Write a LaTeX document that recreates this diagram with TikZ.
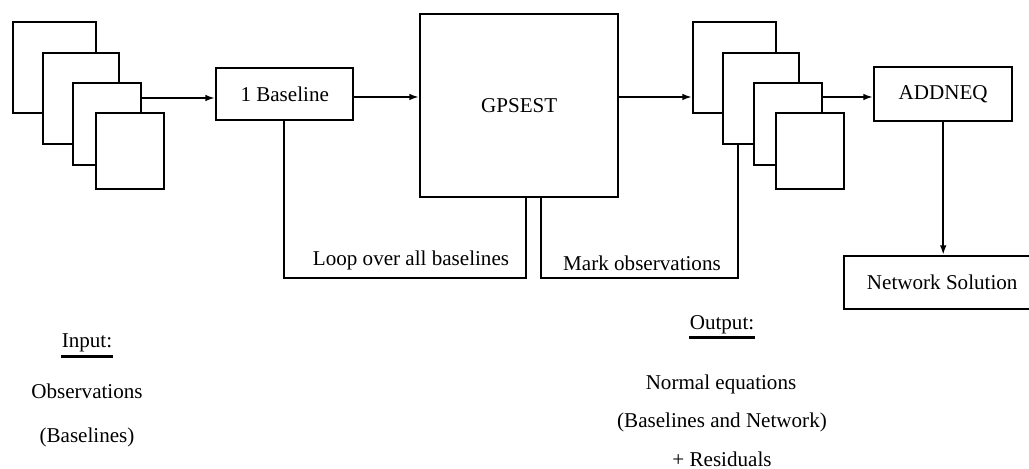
\documentclass[tikz,border=0pt]{standalone}
\usepackage{fontspec}
\setmainfont{Liberation Serif}
\usetikzlibrary{arrows.meta}

\tikzset{
  sheet/.style={draw, fill=white, line width=1.4pt, inner sep=0pt, anchor=north west},
  prog/.style={draw, line width=1.4pt, inner sep=0pt, anchor=north west, font=\fontsize{12}{14}\selectfont},
  flow/.style={line width=1.2pt, -{Latex[length=5.5pt,width=3.8pt]}},
  loopline/.style={line width=1.4pt},
  lbl/.style={inner sep=0pt, anchor=base, font=\fontsize{12}{14}\selectfont},
}

\begin{document}
\begin{tikzpicture}[x=0.02cm, y=-0.02cm]
		\useasboundingbox (0,0) rectangle (1029,469);
		% Input files:
		\node[sheet, minimum width=1.66cm, minimum height=1.82cm] (in1) at (12,21){};
		\node[sheet, minimum width=1.52cm, minimum height=1.82cm] (in2) at (42,52){};
		\node[sheet, minimum width=1.36cm, minimum height=1.64cm] (in3) at (72,82){};
		\node[sheet, minimum width=1.36cm, minimum height=1.52cm] (in4) at (95,112){};
		% Programs:
		\node[prog, minimum width=2.74cm, minimum height=1.04cm] (baseline) at (215,67){1 Baseline};
		\node[prog, minimum width=3.96cm, minimum height=3.66cm] (gpsest) at (419,13){GPSEST};
		\node[prog, minimum width=2.76cm, minimum height=1.08cm] (addneq) at (873,66){ADDNEQ};
		\node[prog, minimum width=3.92cm, minimum height=1.06cm] (netsol) at (843,255){Network Solution};
		% Output files:
		\node[sheet, minimum width=1.66cm, minimum height=1.82cm] (out1) at (692,21){};
		\node[sheet, minimum width=1.52cm, minimum height=1.82cm] (out2) at (722,52){};
		\node[sheet, minimum width=1.36cm, minimum height=1.64cm] (out3) at (753,82){};
		\node[sheet, minimum width=1.36cm, minimum height=1.52cm] (out4) at (775,112){};
		% Flow:
		\draw[flow] (in3.east |- 0,98) -- (baseline.west |- 0,98);
		\draw[flow] (baseline.east |- 0,97) -- (gpsest.west |- 0,97);
		\draw[flow] (gpsest.east |- 0,97) -- (out1.west |- 0,97);
		\draw[flow] (out3.east |- 0,97) -- (addneq.west |- 0,97);
		\draw[flow] (addneq.south) -- (netsol.north -| addneq.south);
		% Loops:
		\draw[loopline] (baseline.south -| 284,0) |- (526,278) -- (gpsest.south -| 526,0);
		\node[lbl] (looptxt) at (411,266){Loop over all baselines};
		\draw[loopline] (gpsest.south -| 541,0) |- (738,278) -- (out2.south -| 738,0);
		\node[lbl] (marktxt) at (642,271){Mark observations};
		% Texts:
		\node[lbl] (inhead) at (87,348){Input:};
		\draw[line width=1.4pt] ([yshift=-0.07cm]inhead.south west) -- ([yshift=-0.07cm]inhead.south east);
		\node[lbl] (obs) at (87,399){Observations};
		\node[lbl] (obsbl) at (87,443){(Baselines)};
		\node[lbl] (outhead) at (722,330){Output:};
		\draw[line width=1.4pt] ([yshift=-0.05cm]outhead.south west) -- ([yshift=-0.05cm]outhead.south east);
		\node[lbl] (neq) at (721,390){Normal equations};
		\node[lbl] (neqbl) at (722,428){(Baselines and Network)};
		\node[lbl] (resid) at (722,467){+ Residuals};
	\end{tikzpicture}
\end{document}
